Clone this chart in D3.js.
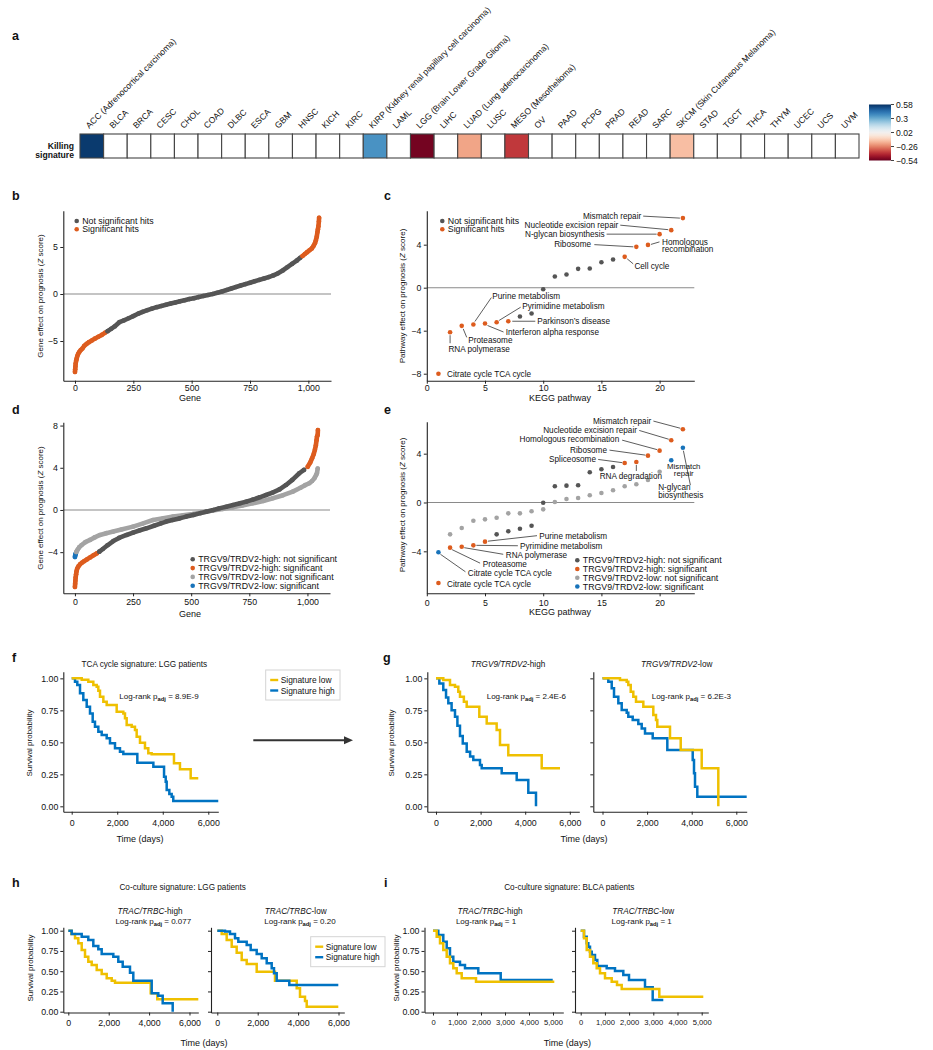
<!DOCTYPE html>
<html><head><meta charset="utf-8">
<script src="https://cdn.jsdelivr.net/npm/d3@7"></script>
<style>
body{margin:0;background:#fff}
svg text{font-family:"Liberation Sans",Arial,Helvetica,sans-serif;fill:#111}
</style></head><body>
<svg id="fig" width="933" height="1050"></svg>
<script>
// ================= DATA =================
// Panel a
const cancers = ["ACC","BLCA","BRCA","CESC","CHOL","COAD","DLBC","ESCA","GBM","HNSC","KICH","KIRC","KIRP","LAML","LGG","LIHC","LUAD","LUSC","MESO","OV","PAAD","PCPG","PRAD","READ","SARC","SKCM","STAD","TGCT","THCA","THYM","UCEC","UCS","UVM"];
const cancerFullNames = {ACC:"ACC (Adrenocortical carcinoma)",KIRP:"KIRP (Kidney renal papillary cell carcinoma)",LGG:"LGG (Brain Lower Grade Glioma)",LUAD:"LUAD (Lung adenocarcinoma)",MESO:"MESO (Mesothelioma)",SKCM:"SKCM (Skin Cutaneous Melanoma)"};
const killingSignature = [0.56,null,null,null,null,null,null,null,null,null,null,null,0.36,null,-0.52,null,-0.2,null,-0.38,null,null,null,null,null,null,-0.15,null,null,null,null,null,null,null];
const colorbarTicks = [0.58,0.3,0.02,-0.26,-0.54];

// Panel b (sorted genes, sampled)
const bGene = [0,1,2,3,5,7,10,14,19,25,32,40,50,60,72,85,100,115,130,140,155,170,190,210,230,250,270,290,310,330,350,370,390,410,430,450,470,490,510,530,550,570,590,610,630,650,670,690,710,730,750,770,790,810,830,850,870,890,910,930,950,965,975,985,995,1005,1015,1022,1028,1032,1036,1039,1041,1043,1045,1046];
const bZ = [-8.3,-8.0,-7.7,-7.4,-7.1,-6.9,-6.6,-6.35,-6.15,-5.95,-5.8,-5.5,-5.3,-5.12,-4.95,-4.75,-4.55,-4.35,-4.1,-3.95,-3.7,-3.45,-3.0,-2.8,-2.58,-2.35,-2.1,-1.9,-1.72,-1.55,-1.4,-1.28,-1.15,-1.02,-0.9,-0.78,-0.66,-0.54,-0.44,-0.33,-0.21,-0.1,0.0,0.13,0.27,0.42,0.58,0.75,0.9,1.05,1.2,1.35,1.5,1.65,1.8,1.98,2.2,2.5,2.85,3.2,3.55,3.85,4.05,4.25,4.45,4.65,4.85,5.1,5.4,5.7,6.1,6.6,6.9,7.2,7.7,8.1];

// Panel c (KEGG pathways 1..22)
const cPathway = [1,2,3,4,5,6,7,8,9,10,11,12,13,14,15,16,17,18,19,20,21,22];
const cZ = [-8.0,-4.14,-3.55,-3.43,-3.33,-3.21,-3.12,-2.68,-2.4,-0.14,1.04,1.22,1.75,1.78,2.37,2.62,2.87,3.8,3.98,4.98,5.35,6.47];
const cSig = [1,1,1,1,1,1,1,0,0,0,0,0,0,0,0,0,1,1,1,1,1,1];

// Panel d
const dHighGene = [0,1,2,3,5,7,10,15,22,30,40,51,65,80,95,105,120,140,165,190,222,250,280,308,340,370,393,420,450,479,510,540,565,595,620,651,680,710,737,765,795,822,850,880,908,935,965,985,1001,1012,1020,1027,1032,1036,1039,1041,1044,1045];
const dHighZ = [-7.3,-7.0,-6.7,-6.4,-6.1,-5.8,-5.55,-5.35,-5.15,-5.0,-4.85,-4.7,-4.5,-4.3,-4.1,-3.95,-3.7,-3.35,-2.95,-2.65,-2.37,-2.15,-1.92,-1.74,-1.5,-1.27,-1.1,-0.95,-0.8,-0.63,-0.47,-0.3,-0.16,0.0,0.15,0.31,0.47,0.63,0.79,0.98,1.2,1.42,1.65,1.95,2.37,2.85,3.48,3.8,4.1,4.5,4.9,5.3,5.7,6.1,6.6,6.95,7.1,7.58];
const dLowGene = [0,1,2,4,6,8,12,18,29,45,65,85,108,135,165,200,250,290,336,380,422,465,507,550,593,635,679,720,765,810,851,895,937,970,990,1008,1020,1030,1037,1041,1044];
const dLowZ = [-4.45,-4.35,-4.25,-4.1,-3.98,-3.9,-3.75,-3.55,-3.32,-3.05,-2.84,-2.6,-2.37,-2.2,-2.05,-1.85,-1.58,-1.3,-0.95,-0.78,-0.63,-0.5,-0.38,-0.22,-0.06,0.1,0.25,0.43,0.63,0.85,1.11,1.4,1.74,2.1,2.35,2.53,2.75,3.0,3.3,3.5,3.92];

// Panel e
const ePathway = [1,2,3,4,5,6,7,8,9,10,11,12,13,14,15,16,17,18,19,20,21,22];
const eHighZ = [-6.6,-3.7,-3.62,-3.51,-3.21,-2.61,-2.36,-2.15,-1.9,-0.02,1.33,1.38,1.41,2.48,2.72,2.91,3.24,3.32,3.84,4.25,5.1,6.0];
const eHighSig = [1,1,1,1,1,0,0,0,0,0,0,0,0,0,0,0,1,1,1,1,1,1];
const eLowZ = [-4.08,-2.61,-2.09,-1.49,-1.38,-1.25,-0.89,-0.89,-0.72,-0.56,0.04,0.29,0.37,0.59,0.78,1.0,1.33,1.49,1.84,2.52,3.46,4.49];
const eLowSig = [1,0,0,0,0,0,0,0,0,0,0,0,0,0,0,0,0,0,0,0,1,1];

// Panel f (time in days, survival)
const fLowT = [0,440,730,950,1098,1170,1243,1390,1537,1976,2268,2341,2415,2635,2780,2854,3000,3219,3365,3513,4493,4756,5226,5560];
const fLowS = [1,0.99,0.974,0.948,0.935,0.903,0.857,0.818,0.791,0.739,0.726,0.688,0.635,0.622,0.596,0.544,0.497,0.453,0.414,0.406,0.336,0.289,0.219,0.219];
const fHighT = [0,145,246,365,510,659,804,922,1023,1170,1318,1537,1682,1902,2121,2268,2883,3587,4057,4130,4173,4289,4392,4462,6438];
const fHighS = [1,0.974,0.948,0.883,0.83,0.778,0.726,0.661,0.622,0.583,0.557,0.531,0.492,0.453,0.427,0.409,0.341,0.31,0.232,0.193,0.128,0.096,0.075,0.042,0.042];

// Panel g
const gHiLowT = [0,327,628,852,1000,1076,1250,1377,1942,2274,2720,2870,3242,4740,5561];
const gHiLowS = [1,0.987,0.948,0.935,0.896,0.857,0.817,0.778,0.70,0.648,0.596,0.479,0.40,0.297,0.297];
const gHiHighT = [0,150,327,450,552,700,852,960,1076,1200,1377,1530,1673,1973,2049,2946,3619,4139,4484];
const gHiHighS = [1,0.96,0.909,0.85,0.805,0.75,0.70,0.63,0.55,0.49,0.427,0.39,0.362,0.323,0.297,0.258,0.205,0.106,0.0];
const gLoLowT = [0,785,1085,1157,1265,1381,1502,1830,2278,2399,2457,3027,3507,4448,5193];
const gLoLowS = [1,0.987,0.974,0.948,0.895,0.857,0.817,0.778,0.713,0.674,0.622,0.531,0.44,0.297,0.0];
const gLoHighT = [0,260,413,516,709,861,1085,1157,1354,1605,1758,1906,2251,2906,4045,4103,4148,4251,6466];
const gLoHighS = [1,0.974,0.922,0.857,0.805,0.752,0.731,0.70,0.674,0.643,0.609,0.57,0.531,0.44,0.362,0.258,0.153,0.075,0.075];

// Panel h
const hHiLowT = [0,150,332,495,663,827,990,1158,1406,1653,1901,2149,2312,4079,4406,6436];
const hHiLowS = [1,0.96,0.906,0.844,0.762,0.679,0.617,0.576,0.515,0.465,0.412,0.383,0.358,0.227,0.153,0.153];
const hHiHighT = [0,168,663,990,1238,1485,1653,2228,2475,2693,3054,3218,4129,4455,4673,5168];
const hHiHighS = [1,0.959,0.926,0.885,0.811,0.77,0.712,0.679,0.617,0.556,0.481,0.383,0.227,0.198,0.103,0.0];
const hLoLowT = [0,218,465,713,960,1208,1455,1950,2856,3931,4094,4342,4426,5990];
const hLoLowS = [1,0.959,0.885,0.802,0.728,0.638,0.589,0.494,0.383,0.289,0.185,0.132,0.062,0.062];
const hLoHighT = [0,381,629,876,1040,1455,1653,1950,2198,2446,2693,2807,2941,3564,5990];
const hLoHighS = [1,0.99,0.959,0.906,0.864,0.823,0.762,0.712,0.659,0.597,0.536,0.474,0.383,0.33,0.33];

// Panel i
const iHiLowT = [0,154,292,429,571,708,846,988,1196,1792,5054];
const iHiLowS = [1,0.926,0.844,0.762,0.679,0.597,0.536,0.474,0.412,0.37,0.37];
const iHiHighT = [0,221,429,571,708,846,1125,1333,1888,2821,4988];
const iHiHighS = [1,0.947,0.864,0.782,0.679,0.617,0.576,0.535,0.474,0.391,0.391];
const iLoLowT = [0,136,248,384,521,661,798,1004,1281,1500,1694,3248,5066];
const iLoLowS = [1,0.906,0.762,0.679,0.597,0.536,0.474,0.412,0.37,0.33,0.28,0.185,0.185];
const iLoHighT = [0,136,248,314,384,455,591,686,1074,1417,1760,1996,2657,2975,3413];
const iLoHighS = [1,0.926,0.844,0.802,0.741,0.70,0.638,0.564,0.535,0.502,0.453,0.391,0.301,0.144,0.144];

// ================= DRAWING =================
const svg = d3.select("#fig");
const FS = 8.2, TICK = 8.8, LEG = 8.8, XT = 9, YT = 8;
const ORANGE = "#DD5C1E", DGREY = "#555555", LGREY = "#A3A3A3", BLUE = "#1873BA";
const KM_Y = "#EFC000", KM_B = "#0073C2";
const fmt = d3.format(",");

function txt(x, y, s, o = {}) {
  const t = svg.append("text").attr("x", x).attr("y", y).attr("font-size", o.fs || FS)
    .attr("text-anchor", o.anchor || "start").text(s);
  if (o.bold) t.attr("font-weight", "bold");
  if (o.italic) t.attr("font-style", "italic");
  return t;
}
function letter(s, x, y) { txt(x, y, s, {fs: 12.5, bold: true}); }
function styleAxis(g, fs) {
  g.attr("font-size", fs || TICK).attr("font-family", null);
  g.select(".domain").attr("stroke", "#222").attr("stroke-width", 1.1);
  g.selectAll(".tick line").attr("stroke", "#222");
  g.selectAll(".tick text").attr("fill", "#111");
}
function axes(x, y, yPos, xPos, xt, yt, xPad, yPad, xf, yf, xfs) {
  const gx = svg.append("g").attr("transform", `translate(0,${yPos})`)
    .call(d3.axisBottom(x).tickValues(xt).tickFormat(xf || fmt).tickSize(3).tickSizeOuter(0).tickPadding(xPad));
  styleAxis(gx, xfs);
  const gy = svg.append("g").attr("transform", `translate(${xPos},0)`)
    .call(d3.axisLeft(y).tickValues(yt).tickFormat(yf || fmt).tickSize(3).tickSizeOuter(0).tickPadding(yPad));
  styleAxis(gy);
}
function yTitle(x, y, parts) {
  const t = svg.append("text").attr("transform", `translate(${x},${y}) rotate(-90)`)
    .attr("text-anchor", "middle").attr("font-size", YT);
  parts.forEach(p => { const s = t.append("tspan").text(p[0]); if (p[1]) s.attr("font-style", "italic"); });
}
function zeroLine(x, y) {
  svg.append("line").attr("x1", x.range()[0]).attr("x2", x.range()[1]).attr("y1", y(0)).attr("y2", y(0))
    .attr("stroke", "#8a8a8a").attr("stroke-width", 1.1);
}
function dotSeries(xs, ys, X, Y, colorOf, r) {
  const pts = X.map((v, i) => ({x: xs(v), y: ys(Y[i]), c: colorOf(Y[i], i)}));
  const groups = []; let cur = null;
  pts.forEach(p => { if (!cur || cur.c !== p.c) { cur = {c: p.c, pts: []}; groups.push(cur); } cur.pts.push(p); });
  const g = svg.append("g");
  groups.forEach(gr => {
    g.append("path").attr("d", d3.line().x(d => d.x).y(d => d.y)(gr.pts)).attr("fill", "none")
      .attr("stroke", gr.c).attr("stroke-width", 2 * r).attr("stroke-linecap", "round").attr("stroke-linejoin", "round");
    g.selectAll(null).data(gr.pts).join("circle").attr("cx", d => d.x).attr("cy", d => d.y).attr("r", r).attr("fill", gr.c);
  });
}
function legendDots(x, y0, step, items) {
  items.forEach((it, i) => {
    svg.append("circle").attr("cx", x).attr("cy", y0 + i * step).attr("r", 2.3).attr("fill", it[1]);
    txt(x + 5.5, y0 + i * step + 3, it[0], {fs: LEG});
  });
}
function annotate(px, py, a) {
  if (a.l) svg.append("line").attr("x1", px + a.l[0]).attr("y1", py + a.l[1]).attr("x2", px + a.l[2]).attr("y2", py + a.l[3])
    .attr("stroke", "#333").attr("stroke-width", 0.8);
  a.text.forEach((s, k) => txt(px + a.dx, py + a.dy + 2.9 + k * (a.gap || 7), s, {anchor: a.anchor || "start", fs: a.fs}));
}

// ---------- Panel a ----------
letter("a", 12, 40);
const xb = d3.scaleBand().domain(cancers).range([80, 859]);
const hmColor = d3.scaleSequential(d3.interpolateRdBu).domain([-0.54, 0.58]);
svg.append("g").selectAll("rect").data(cancers).join("rect")
  .attr("x", d => xb(d)).attr("y", 134).attr("width", xb.bandwidth()).attr("height", 24)
  .attr("fill", (d, i) => killingSignature[i] == null ? "#fff" : hmColor(killingSignature[i]))
  .attr("stroke", "#444").attr("stroke-width", 1.1);
svg.append("g").selectAll("text").data(cancers).join("text")
  .attr("transform", d => `translate(${xb(d) + xb.bandwidth() / 2 - 2.5},129) rotate(-45)`)
  .attr("font-size", 8.6).text(d => cancerFullNames[d] || d);
txt(74, 148.5, "Killing", {anchor: "end", bold: true, fs: 8.6});
txt(74, 157.8, "signature", {anchor: "end", bold: true, fs: 8.6});
const grad = svg.append("defs").append("linearGradient").attr("id", "cbar").attr("x1", 0).attr("x2", 0).attr("y1", 0).attr("y2", 1);
d3.range(0, 1.0001, 0.05).forEach(o => grad.append("stop").attr("offset", o).attr("stop-color", d3.interpolateRdBu(1 - o)));
const cbY = d3.scaleLinear().domain([0.58, -0.54]).range([104.5, 160.5]);
svg.append("rect").attr("x", 869).attr("y", cbY(0.58)).attr("width", 22).attr("height", cbY(-0.54) - cbY(0.58)).attr("fill", "url(#cbar)");
colorbarTicks.forEach(v => {
  svg.append("line").attr("x1", 891).attr("x2", 894).attr("y1", cbY(v)).attr("y2", cbY(v)).attr("stroke", "#444");
  txt(896, cbY(v) + 3, String(v).replace("-", "\u2212"), {fs: 8.6});
});

// ---------- Panel b ----------
letter("b", 12, 200);
const bx = d3.scaleLinear().domain([-50, 1097]).range([63.3, 331]);
const by = d3.scaleLinear().domain([-9.22, 8.86]).range([380.7, 210.7]);
zeroLine(bx, by);
axes(bx, by, 380.7, 63.3, [0, 250, 500, 750, 1000], [-5, 0, 5], 1.2, 2.5);
dotSeries(bx, by, bGene, bZ, z => Math.abs(z) >= 4 ? ORANGE : DGREY, 2.3);
legendDots(76.7, 221, 8.3, [["Not significant hits", DGREY], ["Significant hits", ORANGE]]);
txt(190, 401, "Gene", {anchor: "middle", fs: XT});
yTitle(42.7, 296, [["Gene effect on prognosis ("], ["Z", 1], [" score)"]]);

// ---------- Panel c ----------
letter("c", 384, 200);
const cx = d3.scaleLinear().domain([0, 22.98]).range([426.8, 694.3]);
const cy = d3.scaleLinear().domain([-8.65, 7.16]).range([380.7, 210.7]);
zeroLine(cx, cy);
axes(cx, cy, 380.7, 426.8, [0, 5, 10, 15, 20], [-8, -4, 0, 4], 0.8, 2.5);
svg.append("g").selectAll("circle").data(cPathway).join("circle")
  .attr("cx", d => cx(d)).attr("cy", (d, i) => cy(cZ[i])).attr("r", 2.3)
  .attr("fill", (d, i) => cSig[i] ? ORANGE : DGREY);
const cAnno = [
  {i: 22, text: ["Mismatch repair"], anchor: "end", dx: -41.7, dy: -2, l: [-39.7, -2, -3, 0]},
  {i: 21, text: ["Nucleotide excision repair"], anchor: "end", dx: -53, dy: -5.3, l: [-51, -5, -3, -0.5]},
  {i: 20, text: ["N-glycan biosynthesis"], anchor: "end", dx: -55, dy: 0, l: [-53, 0, -3, 0]},
  {i: 18, text: ["Ribosome"], anchor: "end", dx: -45.3, dy: -2.4, l: [-42, -2.2, -3, 0]},
  {i: 19, text: ["Homologous", "recombination"], dx: 14, dy: -2.4, l: [3, -0.5, 11.5, -3]},
  {i: 17, text: ["Cell cycle"], dx: 9.7, dy: 9, l: [2.5, 2, 8.5, 7]},
  {i: 4, text: ["Purine metabolism"], dx: 19, dy: -28, l: [1.5, -3, 18, -27]},
  {i: 6, text: ["Pyrimidine metabolism"], dx: 25.6, dy: -15.8, l: [2.5, -1.8, 24, -15]},
  {i: 7, text: ["Parkinson\u2019s disease"], dx: 29, dy: 0.3, l: [4, 0, 27, 0]},
  {i: 5, text: ["Interferon alpha response"], dx: 20.7, dy: 9, l: [2.5, 2, 18.5, 8.5]},
  {i: 3, text: ["Proteasome"], dx: 6.6, dy: 14.6, l: [1.5, 3, 5, 11.5]},
  {i: 2, text: ["RNA polymerase"], dx: -1.7, dy: 17, l: [0, 3, 0, 11]},
  {i: 1, text: ["Citrate cycle TCA cycle"], dx: 8.6, dy: 0}
];
cAnno.forEach(a => annotate(cx(a.i), cy(cZ[a.i - 1]), a));
legendDots(442.3, 221, 8.3, [["Not significant hits", DGREY], ["Significant hits", ORANGE]]);
txt(560, 401, "KEGG pathway", {anchor: "middle", fs: XT});
yTitle(405, 296, [["Pathway effect on prognosis ("], ["Z", 1], [" score)"]]);

// ---------- Panel d ----------
letter("d", 12, 414);
const dx = d3.scaleLinear().domain([-50, 1097]).range([63.3, 330]);
const dy = d3.scaleLinear().domain([-7.9, 8.31]).range([593.3, 422.3]);
zeroLine(dx, dy);
axes(dx, dy, 593.3, 63.3, [0, 250, 500, 750, 1000], [-4, 0, 4, 8], 2.2, 2.5);
dotSeries(dx, dy, dLowGene, dLowZ, z => Math.abs(z) >= 4 ? BLUE : LGREY, 2.3);
dotSeries(dx, dy, dHighGene, dHighZ, z => Math.abs(z) >= 4 ? ORANGE : DGREY, 2.3);
const dLegend = [["TRGV9/TRDV2-high: not significant", DGREY], ["TRGV9/TRDV2-high: significant", ORANGE], ["TRGV9/TRDV2-low: not significant", LGREY], ["TRGV9/TRDV2-low: significant", BLUE]];
legendDots(192.7, 559.3, 8.8, dLegend);
txt(190, 617, "Gene", {anchor: "middle", fs: XT});
yTitle(42.7, 508, [["Gene effect on prognosis ("], ["Z", 1], [" score)"]]);

// ---------- Panel e ----------
letter("e", 384, 414);
const ex = d3.scaleLinear().domain([0, 22.98]).range([426.8, 694.3]);
const ey = d3.scaleLinear().domain([-7.44, 6.62]).range([593.3, 421.7]);
zeroLine(ex, ey);
axes(ex, ey, 593.3, 426.8, [0, 5, 10, 15, 20], [-4, 0, 4], 3.5, 2.5);
svg.append("g").selectAll("circle").data(ePathway).join("circle")
  .attr("cx", d => ex(d)).attr("cy", (d, i) => ey(eLowZ[i])).attr("r", 2.3)
  .attr("fill", (d, i) => eLowSig[i] ? BLUE : LGREY);
svg.append("g").selectAll("circle").data(ePathway).join("circle")
  .attr("cx", d => ex(d)).attr("cy", (d, i) => ey(eHighZ[i])).attr("r", 2.3)
  .attr("fill", (d, i) => eHighSig[i] ? ORANGE : DGREY);
const eAnnoHigh = [
  {i: 22, text: ["Mismatch repair"], anchor: "end", dx: -31.7, dy: -8.6, l: [-29.5, -8.2, -2.5, -1]},
  {i: 21, text: ["Nucleotide excision repair"], anchor: "end", dx: -34.3, dy: -10.3, l: [-32, -9.8, -2.5, -1]},
  {i: 20, text: ["Homologous recombination"], anchor: "end", dx: -40.4, dy: -11.4, l: [-37.5, -10.5, -2.5, -1]},
  {i: 19, text: ["Ribosome"], anchor: "end", dx: -41, dy: -6, l: [-38.5, -5.5, -2.5, -0.5]},
  {i: 17, text: ["Spliceosome"], anchor: "end", dx: -28.7, dy: -4, l: [-26.5, -3.5, -2.5, -0.3]},
  {i: 18, text: ["RNA degradation"], anchor: "middle", dx: -5.5, dy: 13.8, l: [0, 3, 0, 9]},
  {i: 5, text: ["Purine metabolism"], dx: 54.3, dy: -6, l: [3, -0.5, 52, -6]},
  {i: 4, text: ["Pyrimidine metabolism"], dx: 46.7, dy: 0.4, l: [3, 0, 44.5, 0.4]},
  {i: 3, text: ["RNA polymerase"], dx: 44, dy: 8, l: [2.5, 1, 41.5, 7.6]},
  {i: 2, text: ["Proteasome"], dx: 32.7, dy: 16.7, l: [2, 2, 30, 15.5]},
  {i: 1, text: ["Citrate cycle TCA cycle"], dx: 8.6, dy: 1.5}
];
eAnnoHigh.forEach(a => annotate(ex(a.i), ey(eHighZ[a.i - 1]), a));
const eAnnoLow = [
  {i: 1, text: ["Citrate cycle TCA cycle"], dx: 29.3, dy: 21, l: [2, 2, 27, 19.5]},
  {i: 21, text: ["Mismatch", "repair"], anchor: "middle", dx: 12.5, dy: 5.6, gap: 7.6, fs: 7.8},
  {i: 22, text: ["N-glycan", "biosynthesis"], dx: -24.7, dy: 39.5, gap: 7.8, l: [0.5, 3, 7.5, 37.5]}
];
eAnnoLow.forEach(a => annotate(ex(a.i), ey(eLowZ[a.i - 1]), a));
legendDots(577.3, 560.3, 8.75, dLegend);
txt(560, 615, "KEGG pathway", {anchor: "middle", fs: XT});
yTitle(405, 505, [["Pathway effect on prognosis ("], ["Z", 1], [" score)"]]);

// ---------- KM helpers ----------
function kmPanel(o) {
  const x = d3.scaleLinear().domain(o.xDom).range([o.x0, o.x1]);
  const y = d3.scaleLinear().domain(o.yDom).range([o.yBot, o.yTop]);
  axes(x, y, o.yBot, o.x0, o.xTicks, [0, 0.25, 0.5, 0.75, 1], o.xPad, 2, fmt,
    o.yLabels ? d3.format(".2f") : () => "", o.xfs);
  o.curves.forEach(c => {
    const pts = c.t.map((t, i) => [x(t), y(c.s[i])]);
    svg.append("path").attr("d", d3.line().curve(d3.curveStepAfter)(pts))
      .attr("fill", "none").attr("stroke", c.color).attr("stroke-width", 2.5).attr("stroke-linejoin", "miter");
  });
}
function logrank(x, y, val, anchor) {
  const t = svg.append("text").attr("x", x).attr("y", y).attr("font-size", 8).attr("text-anchor", anchor || "start");
  t.append("tspan").text("Log-rank p");
  t.append("tspan").attr("dy", 2).attr("font-size", 5.8).attr("font-weight", "bold").text("adj");
  t.append("tspan").attr("dy", -2).text(" = " + val);
}
function italTitle(x, y, ital, rest) {
  const t = svg.append("text").attr("x", x).attr("y", y).attr("font-size", FS).attr("text-anchor", "middle");
  t.append("tspan").attr("font-style", "italic").text(ital);
  t.append("tspan").text(rest);
}
function kmLegend(x, y, w, h) {
  svg.append("rect").attr("x", x).attr("y", y).attr("width", w).attr("height", h)
    .attr("fill", "#fff").attr("stroke", "#d4d4d4").attr("stroke-width", 1);
  [["Signature low", KM_Y], ["Signature high", KM_B]].forEach((it, k) => {
    const yy = y + 10 + k * 10.5;
    svg.append("line").attr("x1", x + 4.5).attr("x2", x + 12.5).attr("y1", yy).attr("y2", yy).attr("stroke", it[1]).attr("stroke-width", 2.4);
    txt(x + 15, yy + 3, it[0], {fs: 8.4});
  });
}
const fgY = {yDom: [-0.042, 1.052], yBot: 811.7, yTop: 671.7};
const hiY = {yDom: [-0.01, 1.042], yBot: 1012.5, yTop: 927.3};

// ---------- Panel f ----------
letter("f", 12, 662);
txt(144.3, 667, "TCA cycle signature: LGG patients", {anchor: "middle"});
kmPanel(Object.assign({x0: 63.3, x1: 218.3, xDom: [-369, 6440], xTicks: [0, 2000, 4000, 6000], xPad: 5.2, yLabels: true,
  curves: [{t: fHighT, s: fHighS, color: KM_B}, {t: fLowT, s: fLowS, color: KM_Y}]}, fgY));
logrank(119.3, 698.8, "8.9E-9");
kmLegend(265.7, 670, 74.3, 30);
txt(140, 841.5, "Time (days)", {anchor: "middle", fs: XT});
yTitle(32, 743, [["Survival probability"]]);
svg.append("line").attr("x1", 253.3).attr("x2", 346).attr("y1", 740.3).attr("y2", 740.3).attr("stroke", "#333").attr("stroke-width", 2);
svg.append("path").attr("d", "M344,736.3L353,740.3L344,744.3Z").attr("fill", "#333");

// ---------- Panel g ----------
letter("g", 383, 662);
italTitle(508, 667, "TRGV9/TRDV2", "-high");
italTitle(676.7, 667, "TRGV9/TRDV2", "-low");
kmPanel(Object.assign({x0: 427.3, x1: 579.3, xDom: [-390, 6426], xTicks: [0, 2000, 4000, 6000], xPad: 5.2, yLabels: true,
  curves: [{t: gHiHighT, s: gHiHighS, color: KM_B}, {t: gHiLowT, s: gHiLowS, color: KM_Y}]}, fgY));
kmPanel(Object.assign({x0: 593.3, x1: 746.7, xDom: [-413, 6466], xTicks: [0, 2000, 4000, 6000], xPad: 5.2, yLabels: false,
  curves: [{t: gLoHighT, s: gLoHighS, color: KM_B}, {t: gLoLowT, s: gLoLowS, color: KM_Y}]}, fgY));
logrank(486.7, 698.8, "2.4E-6");
logrank(651.7, 698.8, "6.2E-3");
txt(584, 841.5, "Time (days)", {anchor: "middle", fs: XT});
yTitle(394.4, 743, [["Survival probability"]]);

// ---------- Panel h ----------
letter("h", 12, 887);
txt(182.7, 890.3, "Co-culture signature: LGG patients", {anchor: "middle"});
italTitle(150, 913.6, "TRAC/TRBC", "-high");
italTitle(295.7, 913.6, "TRAC/TRBC", "-low");
logrank(153.3, 924, "0.077", "middle");
logrank(300, 924, "0.20", "middle");
kmPanel(Object.assign({x0: 63.3, x1: 198.3, xDom: [-248, 6436], xTicks: [0, 2000, 4000, 6000], xPad: 3.8, yLabels: true,
  curves: [{t: hHiLowT, s: hHiLowS, color: KM_Y}, {t: hHiHighT, s: hHiHighS, color: KM_B}]}, hiY));
kmPanel(Object.assign({x0: 211, x1: 344.3, xDom: [-312, 6287], xTicks: [0, 2000, 4000, 6000], xPad: 3.8, yLabels: false,
  curves: [{t: hLoLowT, s: hLoLowS, color: KM_Y}, {t: hLoHighT, s: hLoHighS, color: KM_B}]}, hiY));
kmLegend(310.7, 936.7, 74.3, 30);
txt(204, 1046.3, "Time (days)", {anchor: "middle", fs: XT});
yTitle(32.7, 968, [["Survival probability"]]);

// ---------- Panel i ----------
letter("i", 384, 887);
txt(569.3, 890.3, "Co-culture signature: BLCA patients", {anchor: "middle"});
italTitle(490, 913.6, "TRAC/TRBC", "-high");
italTitle(643.3, 913.6, "TRAC/TRBC", "-low");
logrank(486, 924, "1", "middle");
logrank(641.7, 924, "1", "middle");
kmPanel(Object.assign({x0: 424.5, x1: 563.3, xDom: [-354, 5429], xTicks: [0, 1000, 2000, 3000, 4000, 5000], xPad: 4.3, xfs: 7.6, yLabels: true,
  curves: [{t: iHiHighT, s: iHiHighS, color: KM_B}, {t: iHiLowT, s: iHiLowS, color: KM_Y}]}, hiY));
kmPanel(Object.assign({x0: 575, x1: 708.3, xDom: [-236, 5273], xTicks: [0, 1000, 2000, 3000, 4000, 5000], xPad: 4.3, xfs: 7.6, yLabels: false,
  curves: [{t: iLoHighT, s: iLoHighS, color: KM_B}, {t: iLoLowT, s: iLoLowS, color: KM_Y}]}, hiY));
txt(567.3, 1046.3, "Time (days)", {anchor: "middle", fs: XT});
yTitle(398.7, 968, [["Survival probability"]]);
</script></body></html>
